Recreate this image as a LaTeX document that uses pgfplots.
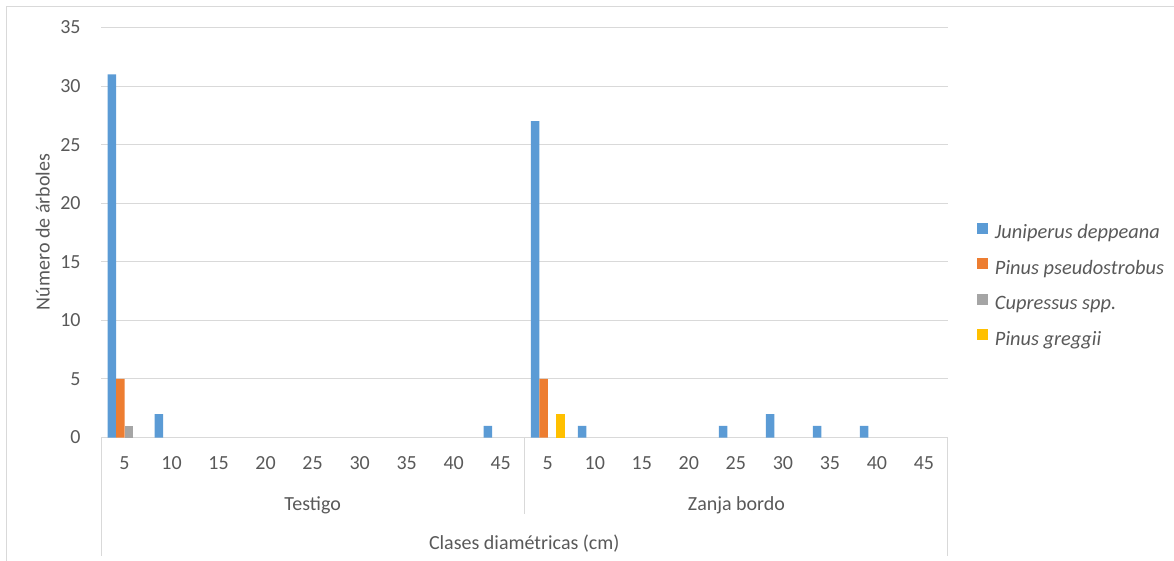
\documentclass[border=0pt]{standalone}
\usepackage{fontspec}
\setmainfont{Carlito}
\usepackage{pgfplots}
\pgfplotsset{compat=1.18}
\definecolor{jun}{HTML}{5B9BD5}
\definecolor{pps}{HTML}{ED7D31}
\definecolor{cup}{HTML}{A5A5A5}
\definecolor{pgr}{HTML}{FFC000}
\definecolor{gridc}{HTML}{D9D9D9}
\definecolor{txt}{HTML}{595959}

\begin{document}
\begin{tikzpicture}[font=\fontsize{10}{12}\selectfont]
% frame and annotations in pixel-like units (origin top left, y downwards)
\begin{scope}[x=0.5pt,y=-0.5pt]
  \useasboundingbox (0,0) rectangle (1174,561);
  \draw[gridc, line width=0.75pt] (6.5,561) -- (6.5,6.5) -- (1174,6.5);
\end{scope}

\begin{axis}[
  at={(50.5pt,-218.75pt)}, anchor=south west,
  scale only axis, width=423.25pt, height=205pt,
  xmin=-0.5, xmax=17.5, ymin=0, ymax=35,
  ytick={0,5,...,35},
  xtick={0,...,17},
  xticklabels={5,10,15,20,25,30,35,40,45,5,10,15,20,25,30,35,40,45},
  ybar=0pt, bar width=4.25pt,
  ymajorgrids, grid style={gridc, line width=0.5pt},
  axis line style={draw=none}, major tick length=0pt,
  tick label style={font=\fontsize{10}{12}\selectfont, text=txt},
  /pgf/number format/assume math mode=true,
  yticklabel style={inner sep=0pt, xshift=-10pt},
  xticklabel style={anchor=center, inner sep=0pt, yshift=-12.75pt},
  clip=false,
  legend cell align=left,
  legend style={draw=none, fill=none, inner sep=0pt, outer sep=0pt,
    at={(axis description cs:1.0348,0.5232)}, anchor=north west,
    row sep=7.7pt, column sep=3.5pt,
    nodes={inner sep=0pt, text height=7pt, text depth=2pt, anchor=west,
      font=\itshape\fontsize{10.2}{12}\selectfont, text=txt}},
  sqlegend/.style={legend image code/.code={\fill[##1] (0pt,0pt) rectangle (5.5pt,5.5pt);}},
]
% Juniperus deppeana
\addplot[fill=jun, draw=none, sqlegend] coordinates {
  (0,31) (1,2) (8,1) (9,27) (10,1) (13,1) (14,2) (15,1) (16,1)};
% Pinus pseudostrobus
\addplot[fill=pps, draw=none, sqlegend] coordinates {(0,5) (9,5)};
% Cupressus spp.
\addplot[fill=cup, draw=none, sqlegend] coordinates {(0,1)};
% Pinus greggii
\addplot[fill=pgr, draw=none, sqlegend] coordinates {(9,2)};
\legend{Juniperus deppeana, Pinus pseudostrobus, Cupressus spp., Pinus greggii}
\end{axis}

\begin{scope}[x=0.5pt,y=-0.5pt]
  % category separators of the two-level axis
  \draw[gridc, line width=0.5pt] (101,437.5) -- (101,556);
  \draw[gridc, line width=0.5pt] (524.25,437.5) -- (524.25,514.5);
  \draw[gridc, line width=0.5pt] (947.5,437.5) -- (947.5,555.5);
  \node[text=txt, anchor=base] at (312.7,510) {Testigo};
  \node[text=txt, anchor=base] at (736.5,510) {Zanja bordo};
  \node[text=txt, anchor=base] at (524.25,549) {Clases diamétricas (cm)};
  \node[text=txt, anchor=base, rotate=90] at (49.5,232) {Número de árboles};
\end{scope}
\end{tikzpicture}
\end{document}
